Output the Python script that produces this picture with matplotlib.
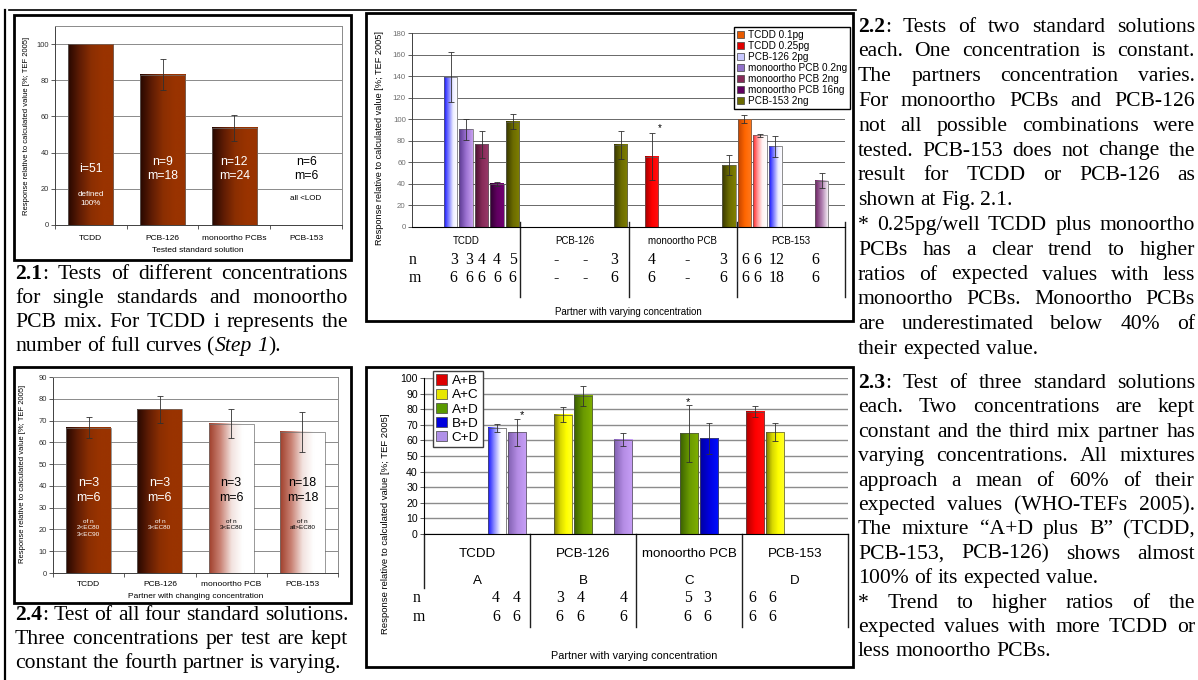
import re
import numpy as np
import matplotlib
matplotlib.use("Agg")
import matplotlib.pyplot as plt
import matplotlib.transforms as mtransforms
from matplotlib.colors import LinearSegmentedColormap
from matplotlib.patches import Patch, Rectangle
from matplotlib.lines import Line2D

nan = np.nan

# ---------------- data: Fig 2.1 ----------------
cats21 = ["TCDD", "PCB-126", "monoortho PCBs", "PCB-153"]
mean21 = [100.0, 83.0, 53.7, 0.0]
err21 = [nan, 8.5, 7.3, nan]
count21 = ["i=51", "n=9\nm=18", "n=12\nm=24", "n=6\nm=6"]
note21 = ["defined\n100%", "", "", "all <LOD"]

# ---------------- data: Fig 2.4 ----------------
cats24 = ["TCDD", "PCB-126", "monoortho PCB", "PCB-153"]
mean24 = [66.8, 75.2, 68.5, 64.8]
err24 = [4.8, 6.1, 6.7, 9.3]
count24 = ["n=3\nm=6", "n=3\nm=6", "n=3\nm=6", "n=18\nm=18"]
note24 = ["of n\n2<EC80\n3<EC90", "of n\n3<EC80", "of n\n3<EC80", "of n\nall>EC80"]

# ---------------- data: Fig 2.2 ----------------
cats22 = ["TCDD", "PCB-126", "monoortho PCB", "PCB-153"]
series22 = ["TCDD 0.1pg", "TCDD 0.25pg", "PCB-126 2pg", "monoortho PCB 0.2ng",
            "monoortho PCB 2ng", "monoortho PCB 16ng", "PCB-153 2ng"]
mean22_tcdd01 = [nan, nan, nan, 100.0]
mean22_tcdd025 = [nan, nan, 65.2, 85.0]
mean22_pcb126 = [139.0, nan, nan, 74.8]
mean22_mono02 = [90.6, nan, nan, nan]
mean22_mono2 = [76.7, nan, nan, nan]
mean22_mono16 = [40.0, nan, nan, 43.1]
mean22_pcb153 = [97.8, 76.3, 57.1, nan]
err22_tcdd01 = [nan, nan, nan, 3.7]
err22_tcdd025 = [nan, nan, 21.7, 1.5]
err22_pcb126 = [23.0, nan, nan, 9.6]
err22_mono02 = [9.7, nan, nan, nan]
err22_mono2 = [12.6, nan, nan, nan]
err22_mono16 = [2.0, nan, nan, 7.2]
err22_pcb153 = [7.0, 12.8, 9.3, nan]
# n / m row below the axis: (category, slot, n, m)
nm22 = [(0, 2.2, "3", "6"), (0, 3.2, "3", "6"), (0, 4.0, "4", "6"), (0, 5.0, "4", "6"),
        (0, 6.0, "5", "6"), (1, 1.8, "-", "-"), (1, 3.7, "-", "-"), (1, 5.6, "3", "6"),
        (2, 1.0, "4", "6"), (2, 3.3, "-", "-"), (2, 5.6, "3", "6"),
        (3, 0.05, "6", "6"), (3, 0.8, "6", "6"), (3, 2.1, "12", "18"), (3, 4.6, "6", "6")]

# ---------------- data: Fig 2.3 ----------------
cats23 = ["TCDD", "PCB-126", "monoortho PCB", "PCB-153"]
letters23 = ["A", "B", "C", "D"]
series23 = ["A+B", "A+C", "A+D", "B+D", "C+D"]
mean23_ab = [nan, nan, nan, 78.5]
mean23_ac = [nan, 76.5, nan, 65.2]
mean23_ad = [nan, 88.5, 64.5, nan]
mean23_bd = [68.0, nan, 61.3, nan]
mean23_cd = [65.2, 60.5, nan, nan]
err23_ab = [nan, nan, nan, 3.5]
err23_ac = [nan, 5.0, nan, 5.7]
err23_ad = [nan, 6.4, 18.5, nan]
err23_bd = [2.6, nan, 10.0, nan]
err23_cd = [8.5, 4.0, nan, nan]
nm23 = [(0, 2.95, "4", "6"), (0, 3.98, "4", "6"), (1, 0.83, "3", "6"), (1, 1.87, "4", "6"),
        (1, 4.03, "4", "6"), (2, 1.93, "5", "6"), (2, 2.93, "3", "6"),
        (3, -0.13, "6", "6"), (3, 0.87, "6", "6")]

# ---------------- text ----------------
cap21 = [("**2.1**: Tests of different concentrations", True),
         ("for single standards and monoortho", True),
         ("PCB mix. For TCDD i represents the", True),
         ("number of full curves (__Step__ __1__).", False)]
cap24 = [("**2.4**: Test of all four standard solutions.", True),
         ("Three concentrations per test are kept", True),
         ("constant the fourth partner is varying.", False)]
par22 = [("**2.2**: Tests of two standard solutions", True),
         ("each. One concentration is constant.", True),
         ("The partners concentration varies.", True),
         ("For monoortho PCBs and PCB-126", True),
         ("not all possible combinations were", True),
         ("tested. PCB-153 does not change the", True),
         ("result for TCDD or PCB-126 as", True),
         ("shown at Fig. 2.1.", False),
         ("* 0.25pg/well TCDD plus monoortho", True),
         ("PCBs has a clear trend to higher", True),
         ("ratios of expected values with less", True),
         ("monoortho PCBs. Monoortho PCBs", True),
         ("are underestimated below 40% of", True),
         ("their expected value.", False)]
par23 = [("**2.3**: Test of three standard solutions", True),
         ("each. Two concentrations are kept", True),
         ("constant and the third mix partner has", True),
         ("varying concentrations. All mixtures", True),
         ("approach a mean of 60% of their", True),
         ("expected values (WHO-TEFs 2005).", True),
         ("The mixture \u201cA+D plus B\u201d (TCDD,", True),
         ("PCB-153, PCB-126) shows almost", True),
         ("100% of its expected value.", False),
         ("* Trend to higher ratios of the", True),
         ("expected values with more TCDD or", True),
         ("less monoortho PCBs.", False)]

YLAB = "Response relative to calculated value [%; TEF 2005]"

# ---------------- fills (two-colour gradients, left -> right) ----------------
BROWN = ["#260700", "#5e1c04", "#8a2e02", "#993300", "#993300"]
BROWN_W = ["#a0402c", "#c98274", "#f2e2de", "#ffffff", "#ffffff"]
G_ORANGE = ["#c04400", "#ff6600", "#ff7a20"]
G_RED = ["#a00000", "#ff0000", "#ff1010"]
G_RED_W = ["#ff2020", "#ff9a9a", "#fff2f2", "#ffffff"]
G_BLUE_W = ["#1010ff", "#8080ff", "#f0f0ff", "#ffffff"]
G_LPURP = ["#5a3890", "#9a70d0", "#c8a0f0"]
G_MAROON = ["#4a1030", "#862a58", "#9a3a6a"]
G_DPURP = ["#300030", "#600060", "#720072"]
G_OLIVE = ["#363600", "#6b6b00", "#808000"]
G_PURP_W = ["#6a2060", "#b080b0", "#ffffff"]
fills22 = [G_ORANGE, G_RED, G_BLUE_W, G_LPURP, G_MAROON, G_DPURP, G_OLIVE]
fill22_special = {(1, 3): G_RED_W, (5, 3): G_PURP_W}
legend22 = ["#e85a00", "#e00000", "#c8c8ff", "#9070c8", "#862a58", "#600060", "#6b6b00"]

Y3_RED = ["#b00000", "#ff0000", "#ff1010"]
Y3_YEL = ["#7a7a00", "#d8d800", "#ffff00", "#ffff30"]
Y3_GRN = ["#3a6000", "#6a9a00", "#80b000"]
Y3_BLUE = ["#0000a0", "#0000e0", "#0010ff"]
Y3_BLUE_W = ["#1010ff", "#9090ff", "#ffffff", "#ffffff"]
Y3_PURP = ["#8060b0", "#b48ce4", "#c8a0f8"]
fills23 = [Y3_RED, Y3_YEL, Y3_GRN, Y3_BLUE, Y3_PURP]
fill23_special = {(3, 0): Y3_BLUE_W}
legend23 = ["#dd0000", "#e6e600", "#5a9a00", "#0000dd", "#b090e8"]

# ---------------- figure helpers ----------------
W, H = 1198, 680
plt.rcParams["font.family"] = ["Liberation Sans", "DejaVu Sans"]
SERIF = ["Liberation Serif", "DejaVu Serif"]
fig = plt.figure(figsize=(W / 100, H / 100), dpi=100)
fig.patch.set_facecolor("white")


def fx(px):
    return px / W


def fy(py):
    return 1 - py / H


def px_ax(x0, y0, x1, y1):
    return fig.add_axes([fx(x0), fy(y1), (x1 - x0) / W, (y1 - y0) / H])


def frame(x0, y0, x1, y1, lw=2.0):
    fig.add_artist(Rectangle((fx(x0), fy(y1)), (x1 - x0) / W, (y1 - y0) / H,
                             transform=fig.transFigure, fill=False, lw=lw, ec="black"))


def fline(x0, y0, x1, y1, lw=1.0, color="black"):
    fig.add_artist(Line2D([fx(x0), fx(x1)], [fy(y0), fy(y1)], transform=fig.transFigure,
                          lw=lw, color=color))


def grad_bar(ax, x, h, w, stops, ec="#707070", lw=0.5):
    cmap = LinearSegmentedColormap.from_list("g", stops)
    ax.imshow(np.linspace(0, 1, 128)[None, :], cmap=cmap, aspect="auto",
              extent=(x - w / 2, x + w / 2, 0, h), interpolation="bilinear", zorder=2)
    ax.bar(x, h, w, facecolor="none", edgecolor=ec, linewidth=lw, zorder=3)


def ebar(ax, x, h, e, color="#303030"):
    if np.isnan(e):
        return
    ax.errorbar([x], [h], yerr=[e], fmt="none", ecolor=color, elinewidth=0.6,
                capsize=2.0, capthick=0.6, zorder=4)


def style_y(ax, ticks, ymax, size, tcolor, gcolor, glw=0.7):
    ax.set_ylim(0, ymax)
    ax.set_yticks(ticks)
    ax.tick_params(axis="y", length=3, width=0.6, direction="out", labelsize=size,
                   labelcolor=tcolor, color="#404040", pad=1.5)
    ax.grid(axis="y", color=gcolor, lw=glw)
    ax.set_axisbelow(True)


def blend(ax):
    return mtransforms.blended_transform_factory(ax.transData, fig.transFigure)


# ---------------- Fig 2.1 ----------------
ax1 = px_ax(55, 26, 342, 225)
for i, (v, e) in enumerate(zip(mean21, err21)):
    if v > 0:
        grad_bar(ax1, i, v, 0.63, BROWN)
    ebar(ax1, i, v, e)
    col = "white" if v > 0 else "black"
    ax1.text(i, 31, count21[i], ha="center", va="center", color=col, fontsize=8.8,
             linespacing=1.25, zorder=5)
    if note21[i]:
        ax1.text(i, 14.5, note21[i], ha="center", va="center", color=col, fontsize=5.8,
                 linespacing=1.35, zorder=5)
ax1.set_xlim(-0.5, 3.5)
style_y(ax1, range(0, 101, 20), 110, 5.4, "#303030", "#8a8a8a")
ax1.set_xticks(np.arange(-0.5, 4, 1))
ax1.tick_params(axis="x", length=3, width=0.6, labelbottom=False, color="#404040")
for s in ("top", "right"):
    ax1.spines[s].set_color("#8a8a8a")
    ax1.spines[s].set_linewidth(0.7)
for s in ("left", "bottom"):
    ax1.spines[s].set_color("#404040")
    ax1.spines[s].set_linewidth(0.7)
for i, c in enumerate(cats21):
    ax1.text(i, fy(238), c, transform=blend(ax1), ha="center", va="center", fontsize=6)
fig.text(fx(198), fy(251), "Tested standard solution", ha="center", va="center", fontsize=6)
fig.text(fx(27), fy(126), YLAB, rotation=90, ha="center", va="center", fontsize=5.5)
frame(14, 15, 351, 260)

# ---------------- Fig 2.4 ----------------
ax4 = px_ax(53, 377, 338, 573)
for i, (v, e) in enumerate(zip(mean24, err24)):
    dark = i < 2
    grad_bar(ax4, i, v, 0.63, BROWN if dark else BROWN_W)
    ebar(ax4, i, v, e)
    col = "white" if dark else "black"
    ax4.text(i, 38, count24[i], ha="center", va="center", color=col, fontsize=9,
             linespacing=1.3, zorder=5)
    ax4.text(i, 25, note24[i], ha="center", va="top", color=col,
             fontsize=4.6, linespacing=1.45, zorder=5)
ax4.set_xlim(-0.5, 3.5)
style_y(ax4, range(0, 91, 10), 90, 5.4, "#303030", "#8a8a8a")
ax4.set_xticks(np.arange(-0.5, 4, 1))
ax4.tick_params(axis="x", length=3, width=0.6, labelbottom=False, color="#404040")
for s in ("top", "right"):
    ax4.spines[s].set_color("#8a8a8a")
    ax4.spines[s].set_linewidth(0.7)
for s in ("left", "bottom"):
    ax4.spines[s].set_color("#404040")
    ax4.spines[s].set_linewidth(0.7)
for i, c in enumerate(cats24):
    ax4.text(i, fy(585), c, transform=blend(ax4), ha="center", va="center", fontsize=6)
fig.text(fx(196), fy(596), "Partner with changing concentration", ha="center",
         va="center", fontsize=6)
fig.text(fx(23), fy(474), YLAB, rotation=90, ha="center", va="center", fontsize=5.5)
frame(14, 367, 351, 603)

# ---------------- Fig 2.2 ----------------
ax2 = px_ax(412, 33, 845, 227)
means22 = [mean22_tcdd01, mean22_tcdd025, mean22_pcb126, mean22_mono02,
           mean22_mono2, mean22_mono16, mean22_pcb153]
errs22 = [err22_tcdd01, err22_tcdd025, err22_pcb126, err22_mono02,
          err22_mono2, err22_mono16, err22_pcb153]


def slot22(cat, k):
    return cat + (k + 0.5) / 7


for k, (vals, errs) in enumerate(zip(means22, errs22)):
    for c, (v, e) in enumerate(zip(vals, errs)):
        if np.isnan(v):
            continue
        stops = fill22_special.get((k, c), fills22[k])
        grad_bar(ax2, slot22(c, k), v, 0.123, stops, ec="#606060")
        ebar(ax2, slot22(c, k), v, e)
ax2.text(slot22(2, 1) + 0.07, 92, "*", ha="center", va="center", fontsize=7)
ax2.set_xlim(0, 4)
style_y(ax2, range(0, 181, 20), 180, 5.7, "#707070", "#505050", 0.6)
ax2.set_xticks([])
for s in ("top", "right"):
    ax2.spines[s].set_visible(False)
ax2.spines["left"].set_color("#404040")
ax2.spines["bottom"].set_color("black")
ax2.spines["left"].set_linewidth(0.7)
ax2.spines["bottom"].set_linewidth(0.8)
t2 = blend(ax2)
for c in range(1, 5):
    ax2.plot([c, c], [fy(222), fy(297)], transform=t2, color="#202020", lw=1.0, clip_on=False)
for c, name in enumerate(cats22):
    ax2.text(c + 0.5, fy(241), name, transform=t2, ha="center", va="center", fontsize=7)
for c, k, n, m in nm22:
    ax2.text(slot22(c, k), fy(260), n, transform=t2, ha="center", va="center",
             fontsize=11.3, family=SERIF)
    ax2.text(slot22(c, k), fy(278), m, transform=t2, ha="center", va="center",
             fontsize=11.3, family=SERIF)
fig.text(fx(413), fy(260), "n", ha="center", va="center", fontsize=11.3, family=SERIF)
fig.text(fx(415), fy(278), "m", ha="center", va="center", fontsize=11.3, family=SERIF)
fig.text(fx(628), fy(312), "Partner with varying concentration", ha="center",
         va="center", fontsize=7)
fig.text(fx(380), fy(138), YLAB, rotation=90, ha="center", va="center", fontsize=6.6)
h22 = [Patch(facecolor=c, edgecolor="#404040", lw=0.5) for c in legend22]
ax2.legend(h22, series22, loc="upper right", bbox_to_anchor=(fx(850), fy(27)),
           bbox_transform=fig.transFigure, fontsize=7.2, frameon=True, fancybox=False,
           edgecolor="black", framealpha=1, borderpad=0.3, labelspacing=0.1,
           handlelength=0.75, handleheight=0.75, handletextpad=0.35, borderaxespad=0)
frame(366, 13, 853, 321)

# ---------------- Fig 2.3 ----------------
ax3 = px_ax(424, 378, 848, 534)
means23 = [mean23_ab, mean23_ac, mean23_ad, mean23_bd, mean23_cd]
errs23 = [err23_ab, err23_ac, err23_ad, err23_bd, err23_cd]


def slot23(cat, k):
    return cat + (10 + 60 * (k + 0.5)) / 320


for k, (vals, errs) in enumerate(zip(means23, errs23)):
    for c, (v, e) in enumerate(zip(vals, errs)):
        if np.isnan(v):
            continue
        stops = fill23_special.get((k, c), fills23[k])
        grad_bar(ax3, slot23(c, k), v, 0.172, stops, ec="#505050")
        ebar(ax3, slot23(c, k), v, e)
ax3.text(0.92, 76, "*", ha="center", va="center", fontsize=8)
ax3.text(2.49, 84.5, "*", ha="center", va="center", fontsize=8)
ax3.set_xlim(0, 4)
style_y(ax3, range(0, 101, 10), 100, 7.6, "black", "#8c8c8c", 1.0)
ax3.set_xticks([])
for s in ("top", "right"):
    ax3.spines[s].set_visible(False)
ax3.spines["left"].set_color("black")
ax3.spines["bottom"].set_color("black")
ax3.spines["left"].set_linewidth(0.8)
ax3.spines["bottom"].set_linewidth(0.8)
t3 = blend(ax3)
ax3.plot([0, 0], [fy(534), fy(588)], transform=t3, color="#202020", lw=1.0, clip_on=False)
for c in range(1, 5):
    ax3.plot([c, c], [fy(534), fy(627)], transform=t3, color="#202020", lw=1.0, clip_on=False)
for c, (name, let) in enumerate(zip(cats23, letters23)):
    ax3.text(c + 0.5, fy(554), name, transform=t3, ha="center", va="center", fontsize=9.6)
    ax3.text(c + 0.5, fy(581), let, transform=t3, ha="center", va="center", fontsize=9.6)
for c, k, n, m in nm23:
    ax3.text(slot23(c, k), fy(598), n, transform=t3, ha="center", va="center",
             fontsize=11.3, family=SERIF)
    ax3.text(slot23(c, k), fy(617), m, transform=t3, ha="center", va="center",
             fontsize=11.3, family=SERIF)
fig.text(fx(417), fy(598), "n", ha="center", va="center", fontsize=11.3, family=SERIF)
fig.text(fx(419), fy(617), "m", ha="center", va="center", fontsize=11.3, family=SERIF)
fig.text(fx(634), fy(656), "Partner with varying concentration", ha="center",
         va="center", fontsize=7.8)
fig.text(fx(385), fy(524), YLAB, rotation=90, ha="center", va="center", fontsize=6.8)
h23 = [Patch(facecolor=c, edgecolor="#404040", lw=0.5) for c in legend23]
ax3.legend(h23, series23, loc="upper left", bbox_to_anchor=(fx(433), fy(371)),
           bbox_transform=fig.transFigure, fontsize=9.7, frameon=True, fancybox=False,
           edgecolor="#404040", framealpha=1, borderpad=0.25, labelspacing=0.1,
           handlelength=0.8, handleheight=0.8, handletextpad=0.35, borderaxespad=0)
frame(366, 367, 853, 667)

# ---------------- table lines ----------------
fline(9, 10, 856, 10, lw=1.2)
fline(5, 10, 5, 680, lw=1.6)

# ---------------- justified paragraphs ----------------
renderer = fig.canvas.get_renderer()


def parse_word(word):
    segs = []
    for part in re.split(r"(\*\*.+?\*\*|__.+?__)", word):
        if not part:
            continue
        if part.startswith("**"):
            segs.append((part[2:-2], dict(weight="bold")))
        elif part.startswith("__"):
            segs.append((part[2:-2], dict(style="italic")))
        else:
            segs.append((part, {}))
    return segs


def paragraph(lines, x0, x1, base0, dy, size):
    probe = fig.text(0, 0, "x x", fontsize=size, family=SERIF)
    w_sp = probe.get_window_extent(renderer).width
    probe.set_text("xx")
    w_sp -= probe.get_window_extent(renderer).width
    probe.remove()
    for i, (line, justify) in enumerate(lines):
        y = fy(base0 + i * dy)
        words = []
        for w in line.split():
            segs = []
            for s, props in parse_word(w):
                t = fig.text(0, y, s, fontsize=size, family=SERIF, va="baseline", **props)
                segs.append((t, t.get_window_extent(renderer).width))
            words.append(segs)
        widths = [sum(wd for _, wd in segs) for segs in words]
        gap = w_sp
        if justify and len(words) > 1:
            gap = max((x1 - x0 - sum(widths)) / (len(words) - 1), 0.6 * w_sp)
        x = x0
        for segs in words:
            for t, wd in segs:
                t.set_x(fx(x))
                x += wd
            x += gap


paragraph(cap21, 15, 348, 279, 24.0, 15.6)
paragraph(cap24, 15, 348, 620, 24.0, 15.6)
paragraph(par22, 858, 1195, 31.5, 24.8, 15.6)
paragraph(par23, 858, 1195, 388, 24.4, 15.6)

fig.savefig("out.png", dpi=100)
